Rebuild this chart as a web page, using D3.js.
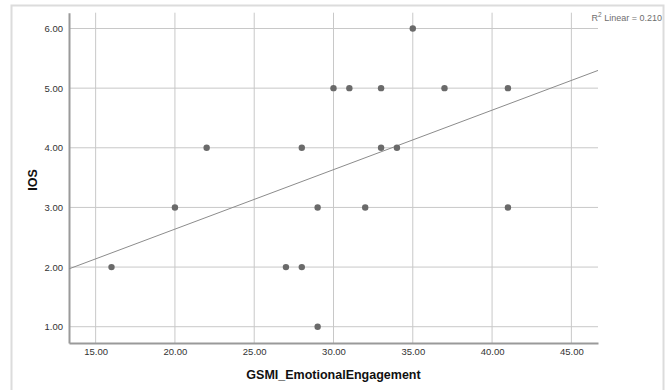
<!DOCTYPE html>
<html>
<head>
<meta charset="utf-8">
<script src="https://cdn.jsdelivr.net/npm/d3@7"></script>
<style>
  body { margin: 0; background: #fff; }
  svg { font-family: "Liberation Sans", Arial, sans-serif; }
</style>
</head>
<body>
<script>
// values
var emotional = [16, 20, 22, 27, 28, 28, 29, 29, 30, 31, 32, 33, 33, 34, 35, 37, 41, 41];
var ios       = [ 2,  3,  4,  2,  2,  4,  1,  3,  5,  5,  3,  5,  4,  4,  6,  5,  5,  3];
var xTicks = [15, 20, 25, 30, 35, 40, 45];
var yTicks = [1, 2, 3, 4, 5, 6];
var r2Label = "0.210";

var width = 669, height = 390;
var svg = d3.select("body").append("svg")
    .attr("width", width)
    .attr("height", height);

// outer frame
svg.append("rect")
    .attr("x", 11.5).attr("y", 5.5)
    .attr("width", 652).attr("height", 390)
    .attr("fill", "none")
    .attr("stroke", "#dcdcdc")
    .attr("stroke-width", 2);

var pLeft = 69, pRight = 598, pTop = 12.7, pBottom = 343;

var x = d3.scaleLinear().domain([13.32, 46.68]).range([pLeft, pRight]);
var y = d3.scaleLinear().domain([0.727, 6.265]).range([pBottom, pTop]);

var data = emotional.map(function(d, i) { return {x: d, y: ios[i]}; });

// grid
svg.append("g").selectAll("line").data(xTicks).enter().append("line")
    .attr("x1", function(d) { return x(d); })
    .attr("x2", function(d) { return x(d); })
    .attr("y1", pTop).attr("y2", pBottom)
    .attr("stroke", "#c8c8c8").attr("stroke-width", 1);
svg.append("g").selectAll("line").data(yTicks).enter().append("line")
    .attr("y1", function(d) { return y(d); })
    .attr("y2", function(d) { return y(d); })
    .attr("x1", pLeft).attr("x2", pRight)
    .attr("stroke", "#c8c8c8").attr("stroke-width", 1);

// axes
var xAxis = d3.axisBottom(x).tickValues(xTicks).tickSize(0).tickPadding(5)
    .tickFormat(d3.format(".2f"));
var yAxis = d3.axisLeft(y).tickValues(yTicks).tickSize(0).tickPadding(6)
    .tickFormat(d3.format(".2f"));

var gx = svg.append("g").attr("transform", "translate(0," + pBottom + ")").call(xAxis);
var gy = svg.append("g").attr("transform", "translate(" + pLeft + ",0)").call(yAxis);
[gx, gy].forEach(function(g) {
    g.select(".domain").attr("stroke", "#9a9a9a").attr("stroke-width", 2);
    g.selectAll("text").attr("fill", "#333").attr("font-size", "9.5px")
        .attr("font-family", "Liberation Sans, Arial, sans-serif");
});

// fit line (least squares)
var mx = d3.mean(emotional), my = d3.mean(ios);
var sxy = d3.sum(data, function(d) { return (d.x - mx) * (d.y - my); });
var sxx = d3.sum(data, function(d) { return (d.x - mx) * (d.x - mx); });
var slope = sxy / sxx, icpt = my - slope * mx;
var xd = x.domain();
svg.append("line")
    .attr("x1", x(xd[0])).attr("y1", y(icpt + slope * xd[0]))
    .attr("x2", x(xd[1])).attr("y2", y(icpt + slope * xd[1]))
    .attr("stroke", "#8c8c8c").attr("stroke-width", 1);

// points
svg.append("g").selectAll("circle").data(data).enter().append("circle")
    .attr("cx", function(d) { return x(d.x); })
    .attr("cy", function(d) { return y(d.y); })
    .attr("r", 3.2)
    .attr("fill", "#6a6a6a");

// R squared label
var rt = svg.append("text")
    .attr("x", 662).attr("y", 21)
    .attr("text-anchor", "end")
    .attr("font-size", "9px")
    .attr("fill", "#6e6e6e");
rt.append("tspan").text("R");
rt.append("tspan").attr("font-size", "6.5px").attr("dy", -4).text("2");
rt.append("tspan").attr("dy", 4).text(" Linear = " + r2Label);

// axis titles
svg.append("text")
    .attr("x", (pLeft + pRight) / 2).attr("y", 379)
    .attr("text-anchor", "middle")
    .attr("font-size", "12.5px").attr("font-weight", "bold")
    .attr("fill", "#111")
    .text("GSMI_EmotionalEngagement");

svg.append("text")
    .attr("transform", "translate(37,180) rotate(-90)")
    .attr("text-anchor", "middle")
    .attr("font-size", "12.5px").attr("font-weight", "bold")
    .attr("fill", "#111")
    .text("IOS");
</script>
</body>
</html>
